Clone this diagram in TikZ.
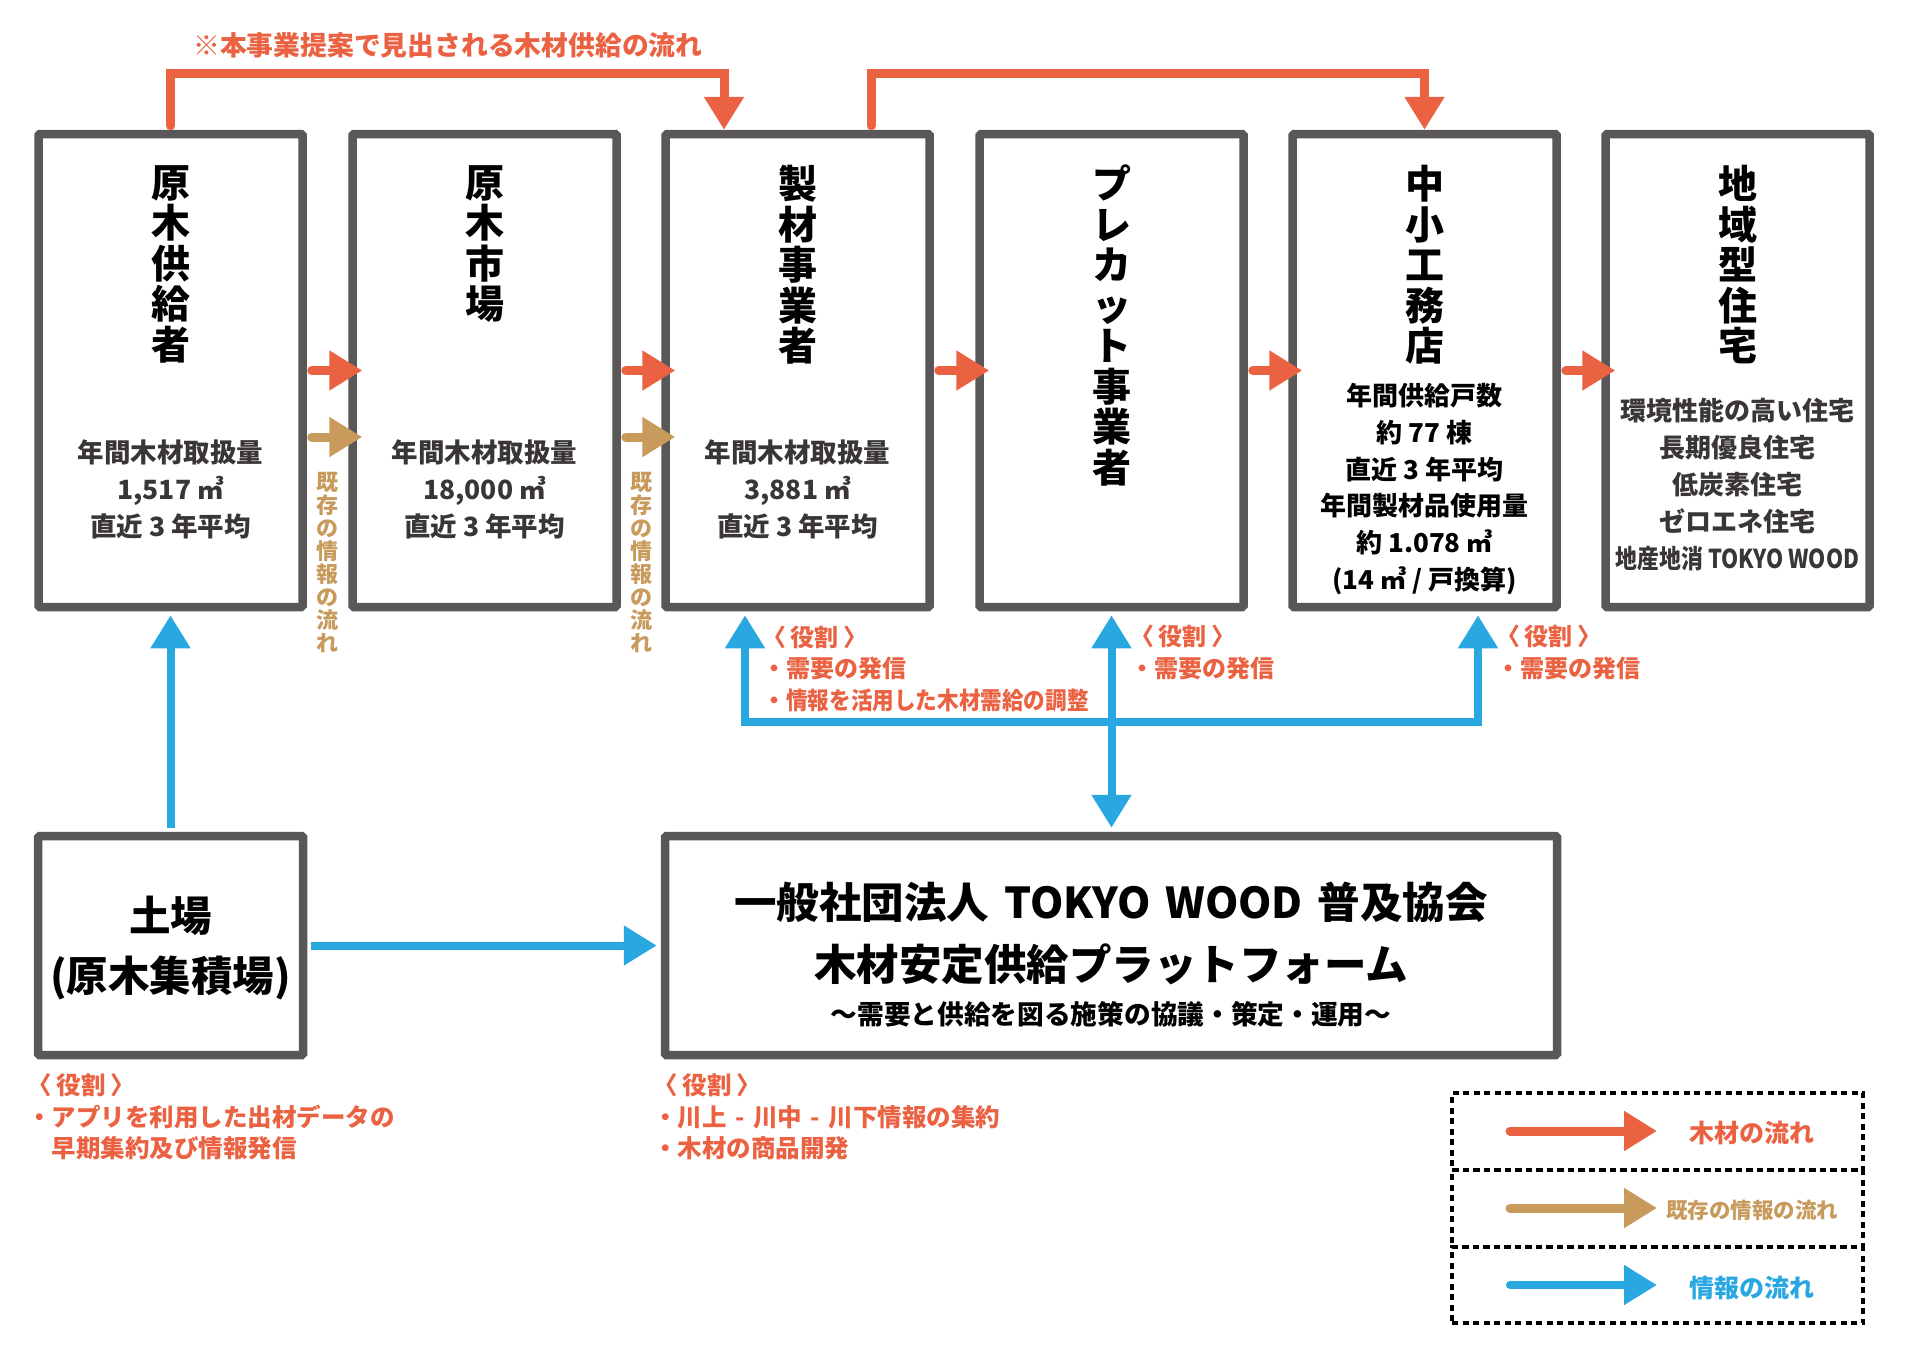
\documentclass[tikz,border=0pt]{standalone}
\usepackage{fontspec}
\usepackage{graphicx}
\setmainfont{Noto Sans CJK JP}
\newfontfamily\heavy{Noto Sans CJK JP Black}
\usetikzlibrary{arrows.meta,calc}
\definecolor{cOr}{HTML}{EA6242}
\definecolor{cTan}{HTML}{C89B5C}
\definecolor{cBlu}{HTML}{29A7E1}
\definecolor{cGray}{HTML}{595757}
\definecolor{cBody}{HTML}{3A3636}
\newcommand\myfs[2]{\fontsize{#1}{#2}\selectfont}
\newcommand\yaku{〈\hspace{0.2em}役割\hspace{0.2em}〉}
\newcommand\hy{\hspace{0.35em}-\hspace{0.35em}}
\begin{document}
\begin{tikzpicture}[x=1pt,y=-1pt,
  box/.style={draw=cGray, line width=8.5pt, rounded corners=1.5pt, minimum width=264pt, minimum height=473pt, inner sep=0pt, fill=white},
  ttl/.style={align=center, inner sep=0pt, anchor=north, font=\myfs{39}{40.5}\heavy},
  body/.style={inner sep=0pt, text=cBody, font=\myfs{26.5}{37}\bfseries, align=center},
  big/.style={inner sep=0pt, font=\myfs{41.5}{40}\heavy, align=center},
  role/.style={inner sep=0pt, anchor=west, text=cOr, font=\myfs{24}{31.5}\bfseries, align=left},
  vtan/.style={inner sep=0pt, anchor=north, text=cTan, align=center, font=\myfs{22}{23}\bfseries},
  tipA/.tip={Triangle[length=33pt,width=38pt]},
  flowO/.style={draw=cOr, line width=9pt, line cap=round, -{tipA}},
  flowT/.style={draw=cTan, line width=9pt, line cap=round, -{tipA}},
  flowB/.style={draw=cBlu, line width=8pt, -{tipA}},
  lgcell/.style={draw=black, line width=3.5pt, dash pattern=on 6pt off 4.5pt, minimum width=411pt, inner sep=0pt},
  lgtxt/.style={inner sep=0pt, font=\myfs{25}{30}\bfseries}
]
\path[use as bounding box] (0,0) rectangle (1909,1350);

% top row boxes
\node[box] (b1) at (170.5,370.5) {};
\node[box] (b2) at (484.5,370.5) {};
\node[box] (b3) at (797.5,370.5) {};
\node[box] (b4) at (1111.5,370.5) {};
\node[box] (b5) at (1424.5,370.5) {};
\node[box] (b6) at (1737.5,370.5) {};
% bottom boxes
\node[box, minimum width=265pt, minimum height=219pt] (d) at (170.5,945.5) {};
\node[box, minimum width=892pt, minimum height=219pt] (p) at (1111,945.5) {};

% titles
\node[ttl] (t1) at (170.5,165) {原\\木\\供\\給\\者};
\node[ttl] (t2) at (484.5,165) {原\\木\\市\\場};
\node[ttl] (t3) at (797.5,165) {製\\材\\事\\業\\者};
\node[ttl] (t4) at (1111.5,165) {プ\\レ\\カ\\ッ\\ト\\事\\業\\者};
\node[ttl] (t5) at (1424.5,165) {中\\小\\工\\務\\店};
\node[ttl] (t6) at (1737.5,165) {地\\域\\型\\住\\宅};

% body texts
\node[body] (s1) at (170.5,489) {年間木材取扱量\\1,517 ㎥\\直近 3 年平均};
\node[body] (s2) at (484.5,489) {年間木材取扱量\\18,000 ㎥\\直近 3 年平均};
\node[body] (s3) at (797.5,489) {年間木材取扱量\\3,881 ㎥\\直近 3 年平均};
\node[body, text=black, font=\myfs{26}{36.8}\bfseries] (s5) at (1424.5,489) {年間供給戸数\\約 77 棟\\直近 3 年平均\\年間製材品使用量\\約 1.078 ㎥\\(14 ㎥ / 戸換算)};
\node[body, font=\myfs{26}{37}\bfseries] (s6) at (1737.5,484.5) {環境性能の高い住宅\\長期優良住宅\\低炭素住宅\\ゼロエネ住宅\\\scalebox{0.84}[1]{地産地消 TOKYO WOOD}};

% bottom box texts
\node[big] (d1) at (170.5,916) {土場};
\node[big] (d2) at (170.5,978) {(原木集積場)};
\node[big, font=\myfs{42.5}{40}\heavy] (p1) at (1111,902) {一般社団法人\hspace{0.35em}TOKYO\hspace{0.35em}WOOD\hspace{0.35em}普及協会};
\node[big, font=\myfs{42.5}{40}\heavy] (p2) at (1111,964) {木材安定供給プラットフォーム};
\node[inner sep=0pt, font=\myfs{26.7}{30}\bfseries] (p3) at (1111,1014) {～需要と供給を図る施策の協議・策定・運用～};

% top label
\node[inner sep=0pt, anchor=west, text=cOr, font=\myfs{26.8}{30}\bfseries] (lbl) at (193,45) {※本事業提案で見出される木材供給の流れ};

% vertical tan labels
\node[vtan] (v1) at (327.5,472) {既\\存\\の\\情\\報\\の\\流\\れ};
\node[vtan] (v2) at (641,472) {既\\存\\の\\情\\報\\の\\流\\れ};

% roles
\node[role] (r3) at (762,668.5) {\yaku\\・需要の発信\\・\scalebox{0.9}[1]{情報を活用した木材需給の調整}};
\node[role] (r4) at (1130,652.5) {\yaku\\・需要の発信};
\node[role] (r5) at (1496,652.5) {\yaku\\・需要の発信};
\node[role, font=\myfs{24.5}{31.5}\bfseries] (rd) at (27,1117) {\yaku\\・アプリを利用した出材データの\\　早期集約及び情報発信};
\node[role, font=\myfs{24.5}{31.5}\bfseries] (rp) at (653,1117) {\yaku\\・川上\hy 川中\hy 川下情報の集約\\・木材の商品開発};

% orange flows between boxes
\draw[flowO] ($(b1.east)+(5,0)$) -- ($(b2.west)+(14,0)$);
\draw[flowO] ($(b2.east)+(5,0)$) -- ($(b3.west)+(14,0)$);
\draw[flowO] ($(b3.east)+(5,0)$) -- ($(b4.west)+(14,0)$);
\draw[flowO] ($(b4.east)+(5,0)$) -- ($(b5.west)+(14,0)$);
\draw[flowO] ($(b5.east)+(5,0)$) -- ($(b6.west)+(14,0)$);

% tan flows
\coordinate (ty) at (0,437);
\draw[flowT] ($(b1.east |- ty)+(5,0)$) -- ($(b2.west |- ty)+(14,0)$);
\draw[flowT] ($(b2.east |- ty)+(5,0)$) -- ($(b3.west |- ty)+(14,0)$);

% top orange connectors
\coordinate (tA) at (724,73);
\coordinate (tB) at (871,73);
\coordinate (tC) at (b5.north |- tA);
\draw[flowO, line join=miter] ($(b1.north)+(0,-4)$) -- (b1.north |- tA) -- (tA) -- ($(tA |- b3.north)$);
\draw[flowO, line join=miter] ($(tB |- b3.north)+(0,-4)$) -- (tB) -- (tC) -- (b5.north);

% blue flows
\draw[flowB] ($(d.north)+(0,-4)$) -- ($(b1.south)+(0,4)$);
\draw[flowB] ($(d.east)+(4,0)$) -- ($(p.west)+(-4,0)$);
\coordinate (nL) at (745,722);
\coordinate (nR) at (1478,722);
\draw[flowB, line join=miter, {tipA}-{tipA}] ($(nL |- b3.south)+(0,4)$) -- (nL) -- (nR) -- ($(nR |- b5.south)+(0,4)$);
\draw[flowB, {tipA}-{tipA}] ($(b4.south)+(0,4)$) -- ($(b4.south |- p.north)+(0,-4)$);

% legend
\node[lgcell, minimum height=77pt] (lg1) at (1657.5,1131.5) {};
\node[lgcell, minimum height=77pt] (lg2) at (1657.5,1208.5) {};
\node[lgcell, minimum height=76pt] (lg3) at (1657.5,1285) {};
\coordinate (la1) at (1510,1131);
\coordinate (lb1) at (1657,1131);
\coordinate (la2) at (1510,1208);
\coordinate (lb2) at (1657,1208);
\coordinate (la3) at (1510,1285);
\coordinate (lb3) at (1657,1285);
\draw[flowO] (la1) -- (lb1);
\draw[flowT] (la2) -- (lb2);
\draw[flowB, line cap=round] (la3) -- (lb3);
\node[lgtxt, text=cOr] (lt1) at (1752,1133) {木材の流れ};
\node[lgtxt, text=cTan, font=\myfs{21.5}{30}\bfseries] (lt2) at (1752,1210) {既存の情報の流れ};
\node[lgtxt, text=cBlu] (lt3) at (1752,1288) {情報の流れ};
\end{tikzpicture}
\end{document}
